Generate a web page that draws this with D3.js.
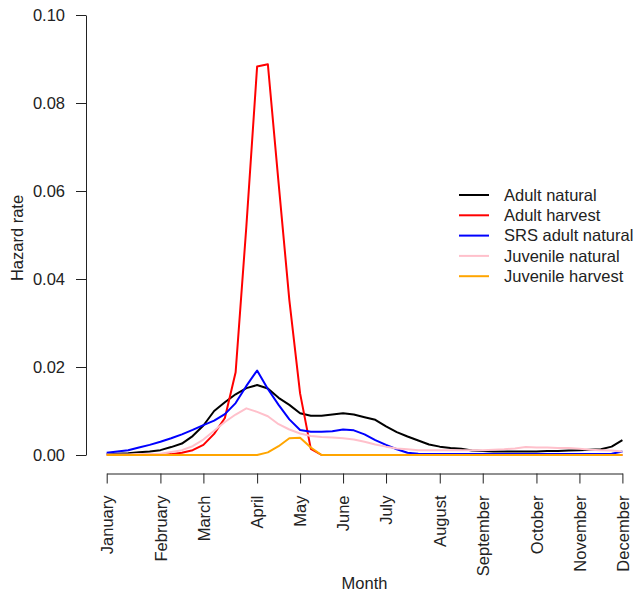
<!DOCTYPE html>
<html>
<head>
<meta charset="utf-8">
<script src="https://cdn.jsdelivr.net/npm/d3@7"></script>
<style>
  body { margin: 0; background: #fff; }
  svg { font-family: "Liberation Sans", Arial, sans-serif; }
</style>
</head>
<body>
<svg id="chart" width="636" height="596"></svg>
<script>
// week index of each point (x axis is in weeks)
const weeks = [1,2,3,4,5,6,7,8,9,10,11,12,13,14,15,16,17,18,19,20,21,22,23,24,25,
  26,27,28,29,30,31,32,33,34,35,36,37,38,39,40,41,42,43,44,45,46,47,48,49];

const monthNames = ["January","February","March","April","May","June","July",
  "August","September","October","November","December"];
const monthWeeks = [1,6,10,15,19,23,27,32,36,41,45,49];

const yTicks = [0, 0.02, 0.04, 0.06, 0.08, 0.10];

const adultNatural = [0.0002,0.0003,0.0004,0.0006,0.0008,0.0011,0.0018,0.0026,0.0043,0.0067,
  0.0100,0.0120,0.0138,0.0152,0.0159,0.0151,0.0130,0.0114,0.0095,0.0089,
  0.0089,0.0092,0.0095,0.0092,0.0086,0.0080,0.0065,0.0052,0.0042,0.0033,
  0.0024,0.0019,0.0016,0.0014,0.0010,0.0009,0.0008,0.0008,0.0008,0.0008,
  0.0008,0.0009,0.0009,0.0010,0.0011,0.0012,0.0013,0.0019,0.0034];

const adultHarvest = [0,0,0,0,0,0,0.0002,0.0005,0.0011,0.0023,
  0.0048,0.0084,0.0188,0.0520,0.0883,0.0888,0.0618,0.0352,0.0140,0.0014,
  0,0,0,0,0,0,0,0,0,0,0,0,0,0,0,0,0,0,0,0,0,0,0,0,0,0,0,0,0];

const srsAdultNatural = [0.0005,0.0008,0.0011,0.0017,0.0023,0.0030,0.0038,0.0047,0.0057,0.0068,
  0.0078,0.0093,0.0118,0.0157,0.0192,0.0150,0.0114,0.0081,0.0057,0.0053,
  0.0053,0.0054,0.0058,0.0056,0.0047,0.0034,0.0023,0.0013,0.0005,0.0003,
  0.0002,0.0002,0.0002,0.0002,0.0002,0.0002,0.0002,0.0002,0.0002,0.0002,
  0.0002,0.0002,0.0002,0.0002,0.0002,0.0002,0.0002,0.0003,0.0008];

const juvenileNatural = [0.0001,0.0001,0.0001,0.0002,0.0002,0.0003,0.0007,0.0011,0.0020,0.0035,
  0.0055,0.0075,0.0092,0.0106,0.0098,0.0088,0.0070,0.0058,0.0049,0.0043,
  0.0041,0.0040,0.0038,0.0035,0.0030,0.0024,0.0019,0.0015,0.0013,0.0011,
  0.0011,0.0011,0.0011,0.0011,0.0011,0.0011,0.0012,0.0013,0.0015,0.0018,
  0.0017,0.0017,0.0016,0.0016,0.0014,0.0012,0.0011,0.0010,0.0008];

const juvenileHarvest = [0,0,0,0,0,0,0,0,0,0,0,0,0,0,0,0.0006,0.0020,0.0038,0.0039,0.0017,
  0,0,0,0,0,0,0,0,0,0,0,0,0,0,0,0,0,0,0,0,0,0,0,0,0,0,0,0,0];

const seriesNames = ["Adult natural","Adult harvest","SRS adult natural","Juvenile natural","Juvenile harvest"];
const seriesColors = ["#000000","#ff0000","#0000ff","#ffc0cb","#ffa500"];
const seriesValues = [adultNatural, adultHarvest, srsAdultNatural, juvenileNatural, juvenileHarvest];

const svg = d3.select("#chart");

const x = d3.scaleLinear().domain([1, 49]).range([106.7, 622.4]);
const y = d3.scaleLinear().domain([0, 0.1]).range([455, 15]);

// x axis
const xAxis = svg.append("g")
    .attr("transform", "translate(0,473.5)")
    .call(d3.axisBottom(x).tickValues(monthWeeks).tickSize(10).tickSizeOuter(0)
      .tickFormat((d, i) => monthNames[i]));
xAxis.selectAll("path, line").attr("stroke", "#222").attr("stroke-width", 1);
xAxis.selectAll("text")
    .attr("fill", "#222")
    .style("font-size", "16.5px")
    .attr("transform", "rotate(-90)")
    .attr("x", -22)
    .attr("y", 0)
    .attr("dy", "0.35em")
    .attr("text-anchor", "end");

// y axis
const yAxis = svg.append("g")
    .attr("transform", "translate(86,0)")
    .call(d3.axisLeft(y).tickValues(yTicks).tickSize(10).tickSizeOuter(0)
      .tickFormat(d3.format(".2f")));
yAxis.selectAll("path, line").attr("stroke", "#222").attr("stroke-width", 1);
yAxis.selectAll("text")
    .attr("fill", "#222")
    .style("font-size", "16.5px")
    .attr("x", -21);

// axis titles
svg.append("text")
    .attr("x", x(25))
    .attr("y", 589)
    .attr("text-anchor", "middle")
    .style("font-size", "16.5px")
    .attr("fill", "#222")
    .text("Month");

svg.append("text")
    .attr("transform", "translate(23,238) rotate(-90)")
    .attr("text-anchor", "middle")
    .style("font-size", "16.5px")
    .attr("fill", "#222")
    .text("Hazard rate");

// lines
const line = d3.line()
    .x((d, i) => x(weeks[i]))
    .y(d => y(d));

seriesValues.forEach((vals, k) => {
  svg.append("path")
      .datum(vals)
      .attr("fill", "none")
      .attr("stroke", seriesColors[k])
      .attr("stroke-width", 2)
      .attr("stroke-linejoin", "round")
      .attr("d", line);
});

// legend
const legend = svg.append("g").attr("transform", "translate(459,195)");
seriesNames.forEach((name, k) => {
  const row = legend.append("g").attr("transform", `translate(0,${k * 20.3})`);
  row.append("line")
      .attr("x1", 0).attr("x2", 30)
      .attr("stroke", seriesColors[k])
      .attr("stroke-width", 2);
  row.append("text")
      .attr("x", 45)
      .attr("dy", "0.35em")
      .style("font-size", "16.5px")
      .attr("fill", "#222")
      .text(name);
});
</script>
</body>
</html>
